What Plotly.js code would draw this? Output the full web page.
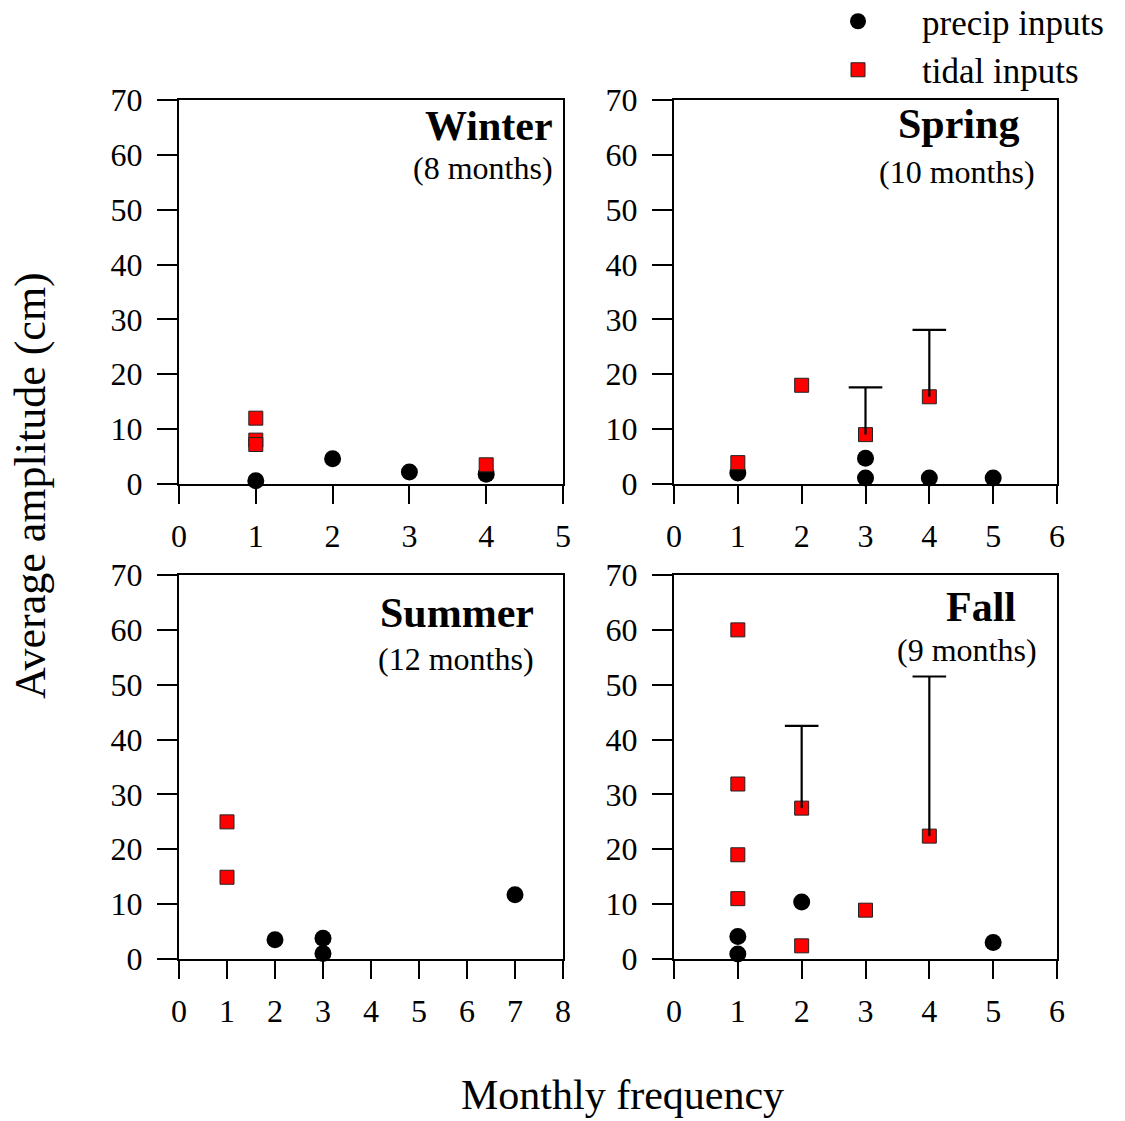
<!DOCTYPE html>
<html>
<head>
<meta charset="utf-8">
<script src="https://cdn.plot.ly/plotly-3.0.1.min.js"></script>
<style>html,body{margin:0;padding:0;background:#fff;}</style>
</head>
<body>
<div id="chart" style="width:1125px;height:1121px;"></div>
<script>
// ---------- DATA ----------
var seriesNames = ["precip inputs", "tidal inputs"];
var panelTitles = ["Winter", "Spring", "Summer", "Fall"];
var panelSubtitles = ["(8 months)", "(10 months)", "(12 months)", "(9 months)"];
var xMax = [5, 6, 8, 6];
var yTicks = [0, 10, 20, 30, 40, 50, 60, 70];

var winterPrecipX = [1, 2, 3, 4];
var winterPrecipY = [0.6, 4.6, 2.2, 1.8];
var winterTidalX = [1, 1, 1, 4];
var winterTidalY = [12.0, 8.0, 7.2, 3.5];
var winterTidalErr = [null, null, null, null];

var springPrecipX = [1, 3, 3, 4, 5];
var springPrecipY = [2.0, 4.7, 1.1, 1.1, 1.1];
var springTidalX = [1, 2, 3, 4];
var springTidalY = [3.9, 18.0, 9.0, 15.9];
var springTidalErr = [null, null, 8.6, 12.2];

var summerPrecipX = [2, 3, 3, 7];
var summerPrecipY = [3.5, 3.8, 1.0, 11.7];
var summerTidalX = [1, 1];
var summerTidalY = [25.0, 14.9];
var summerTidalErr = [null, null];

var fallPrecipX = [1, 1, 2, 5];
var fallPrecipY = [4.1, 0.9, 10.4, 3.0];
var fallTidalX = [1, 1, 1, 1, 2, 2, 3, 4];
var fallTidalY = [60.0, 31.9, 19.0, 11.0, 27.5, 2.4, 8.9, 22.4];
var fallTidalErr = [null, null, null, null, 15.0, null, null, 29.1];

// ---------- STYLE / LAYOUT ----------
var W = 1125, H = 1121;
var FONT = "Liberation Serif, Times New Roman, serif";
function px(x) { return x / W; }
function py(y) { return 1 - y / H; }

var panels = [
  {px: winterPrecipX, py: winterPrecipY, tx: winterTidalX, ty: winterTidalY, te: winterTidalErr},
  {px: springPrecipX, py: springPrecipY, tx: springTidalX, ty: springTidalY, te: springTidalErr},
  {px: summerPrecipX, py: summerPrecipY, tx: summerTidalX, ty: summerTidalY, te: summerTidalErr},
  {px: fallPrecipX, py: fallPrecipY, tx: fallTidalX, ty: fallTidalY, te: fallTidalErr}
];

// pixel boxes [left, right, top, bottom]
var boxes = [
  [179, 563, 100, 484],
  [674, 1057, 100, 484],
  [179, 563, 575, 959],
  [674, 1057, 575, 959]
];

var traces = [];
panels.forEach(function (p, i) {
  var xa = i === 0 ? 'x' : 'x' + (i + 1);
  var ya = i === 0 ? 'y' : 'y' + (i + 1);
  traces.push({
    type: 'scatter', mode: 'markers', x: p.px, y: p.py, xaxis: xa, yaxis: ya,
    name: seriesNames[0], legendgroup: 'precip', showlegend: i === 0, cliponaxis: false,
    marker: {symbol: 'circle', size: 17, color: '#000000', line: {width: 0}},
    hoverinfo: 'x+y'
  });
  traces.push({
    type: 'scatter', mode: 'markers', x: p.tx, y: p.ty, xaxis: xa, yaxis: ya,
    name: seriesNames[1], legendgroup: 'tidal', showlegend: i === 0, cliponaxis: false,
    marker: {symbol: 'square', size: 14, color: '#ff0000', line: {width: 1, color: '#222222'}},
    hoverinfo: 'x+y'
  });
  // upper-only error bars, drawn above the squares (as in the original)
  var sx = [], sy = [], cx = [], cy = [];
  p.te.forEach(function (e, k) {
    if (e !== null) {
      sx.push(p.tx[k], p.tx[k], null);
      sy.push(p.ty[k], p.ty[k] + e, null);
      cx.push(p.tx[k]);
      cy.push(p.ty[k] + e);
    }
  });
  if (cx.length) {
    // vertical stem
    traces.push({
      type: 'scatter', mode: 'lines', x: sx, y: sy, xaxis: xa, yaxis: ya,
      name: seriesNames[1] + ' error', showlegend: false, cliponaxis: false, connectgaps: false,
      line: {color: '#000000', width: 2.2},
      hoverinfo: 'skip'
    });
    // top cap
    traces.push({
      type: 'scatter', mode: 'markers', x: cx, y: cy, xaxis: xa, yaxis: ya,
      name: seriesNames[1] + ' error cap', showlegend: false, cliponaxis: false,
      marker: {symbol: 'line-ew', size: 24, color: '#000000', line: {width: 2.2, color: '#000000'}},
      hoverinfo: 'skip'
    });
  }
});

var layout = {
  width: W, height: H,
  margin: {l: 0, r: 0, t: 0, b: 0, pad: 0, autoexpand: false},
  paper_bgcolor: '#ffffff', plot_bgcolor: '#ffffff',
  font: {family: FONT, color: '#000000', size: 32},
  showlegend: true,
  legend: {
    x: px(794), y: py(-8), xanchor: 'left', yanchor: 'top',
    bgcolor: 'rgba(0,0,0,0)', borderwidth: 0,
    font: {family: FONT, size: 35, color: '#000000'},
    itemwidth: 118, tracegroupgap: 0
  },
  annotations: [],
  hovermode: 'closest'
};

boxes.forEach(function (b, i) {
  var xk = i === 0 ? 'xaxis' : 'xaxis' + (i + 1);
  var yk = i === 0 ? 'yaxis' : 'yaxis' + (i + 1);
  var xa = i === 0 ? 'x' : 'x' + (i + 1);
  var ya = i === 0 ? 'y' : 'y' + (i + 1);
  var xt = [];
  for (var k = 0; k <= xMax[i]; k++) xt.push(k);
  layout[xk] = {
    domain: [px(b[0]), px(b[1])], anchor: ya, range: [0, xMax[i]],
    tickmode: 'array', tickvals: xt, ticktext: xt.map(String),
    showline: true, mirror: true, linewidth: 2, linecolor: '#000000',
    ticks: 'outside', ticklen: 18, tickwidth: 1.5, tickcolor: '#000000',
    ticklabelstandoff: 5,
    showgrid: false, zeroline: false,
    tickfont: {family: FONT, size: 32, color: '#000000'}
  };
  layout[yk] = {
    domain: [py(b[3]), py(b[2])], anchor: xa, range: [0, 70],
    tickmode: 'array', tickvals: yTicks, ticktext: yTicks.map(String),
    showline: true, mirror: true, linewidth: 2, linecolor: '#000000',
    ticks: 'outside', ticklen: 20, tickwidth: 1.5, tickcolor: '#000000',
    ticklabelstandoff: 8,
    showgrid: false, zeroline: false,
    tickfont: {family: FONT, size: 32, color: '#000000'}
  };
});

// panel titles (pixel positions: right edge, vertical center)
var titlePos = [[555, 126], [1021, 124], [536, 613], [1018, 607]];
var subPos = [[555, 168], [1037, 172], [536, 659], [1039, 650]];
for (var i = 0; i < 4; i++) {
  layout.annotations.push({
    xref: 'paper', yref: 'paper', x: px(titlePos[i][0]), y: py(titlePos[i][1]),
    xanchor: 'right', yanchor: 'middle', showarrow: false,
    text: '<b>' + panelTitles[i] + '</b>',
    font: {family: FONT, size: 42, color: '#000000'}
  });
  layout.annotations.push({
    xref: 'paper', yref: 'paper', x: px(subPos[i][0]), y: py(subPos[i][1]),
    xanchor: 'right', yanchor: 'middle', showarrow: false,
    text: panelSubtitles[i],
    font: {family: FONT, size: 32, color: '#000000'}
  });
}
// shared axis titles
layout.annotations.push({
  xref: 'paper', yref: 'paper', x: px(30), y: py(486), xanchor: 'center', yanchor: 'middle',
  showarrow: false, textangle: -90, text: 'Average amplitude (cm)',
  font: {family: FONT, size: 44, color: '#000000'}
});
layout.annotations.push({
  xref: 'paper', yref: 'paper', x: px(622), y: py(1095), xanchor: 'center', yanchor: 'middle',
  showarrow: false, text: 'Monthly frequency',
  font: {family: FONT, size: 42, color: '#000000'}
});

Plotly.newPlot('chart', traces, layout, {displayModeBar: false});
</script>
</body>
</html>
